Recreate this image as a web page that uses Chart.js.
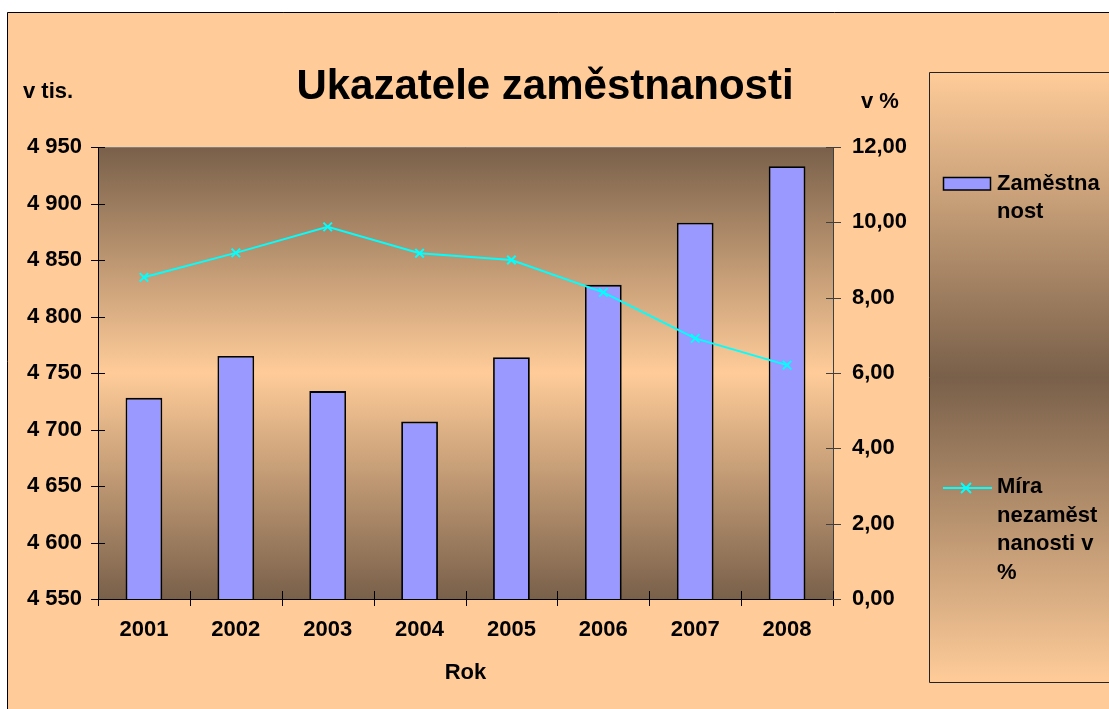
<!DOCTYPE html>
<html>
<head>
<meta charset="utf-8">
<script src="https://cdn.jsdelivr.net/npm/chart.js@4"></script>
<style>
  html, body { margin: 0; padding: 0; background: #fff; }
  canvas { display: block; }
</style>
</head>
<body>
<canvas id="chart" width="1109" height="709"></canvas>
<script>
// data
const years = ['2001', '2002', '2003', '2004', '2005', '2006', '2007', '2008'];
const employment = [4728, 4765, 4734, 4707, 4764, 4828, 4883, 4933];
const unemploymentRate = [8.54, 9.19, 9.88, 9.18, 9.0, 8.14, 6.92, 6.21];
const leftTickLabels = ['4 550', '4 600', '4 650', '4 700', '4 750', '4 800', '4 850', '4 900', '4 950'];
const rightTickLabels = ['0,00', '2,00', '4,00', '6,00', '8,00', '10,00', '12,00'];
const legendBarLines = ['Zaměstna', 'nost'];
const legendLineLines = ['Míra', 'nezaměst', 'nanosti v', '%'];

const FONT = '"Liberation Sans", Arial, sans-serif';
const PEACH = '#ffcc99';
const BROWN = '#79604a';

// background, plot gradient, frame
const backdrop = {
    id: 'backdrop',
    beforeDraw(chart) {
        const ctx = chart.ctx;
        const a = chart.chartArea;
        ctx.save();
        ctx.fillStyle = '#fff';
        ctx.fillRect(0, 0, chart.width, chart.height);
        ctx.fillStyle = PEACH;
        ctx.fillRect(7, 12, chart.width, chart.height);
        ctx.strokeStyle = '#000';
        ctx.lineWidth = 1;
        ctx.beginPath();
        ctx.moveTo(7.5, chart.height + 5);
        ctx.lineTo(7.5, 12.5);
        ctx.lineTo(chart.width + 5, 12.5);
        ctx.stroke();

        const g = ctx.createLinearGradient(0, a.top, 0, a.bottom);
        g.addColorStop(0, BROWN);
        g.addColorStop(0.5, PEACH);
        g.addColorStop(1, BROWN);
        ctx.fillStyle = g;
        ctx.fillRect(a.left, a.top, a.right - a.left, a.bottom - a.top);

        ctx.strokeStyle = '#808080';
        ctx.beginPath();
        ctx.moveTo(a.left, a.top + 0.5);
        ctx.lineTo(a.right, a.top + 0.5);
        ctx.stroke();
        ctx.restore();
    },
    afterDraw(chart) {
        const ctx = chart.ctx;
        const a = chart.chartArea;
        const {x, y, y1} = chart.scales;
        ctx.save();
        ctx.lineWidth = 1;

        // crossing tick marks
        ctx.strokeStyle = '#000';
        ctx.beginPath();
        y.ticks.forEach((t, i) => {
            const py = Math.round(y.getPixelForTick(i)) + 0.5;
            ctx.moveTo(a.left - 7, py);
            ctx.lineTo(a.left + 7, py);
        });
        for (let i = 0; i <= years.length; i++) {
            const px = Math.round(a.left + (a.right - a.left) * i / years.length) + 0.5;
            ctx.moveTo(px, a.bottom - 8);
            ctx.lineTo(px, a.bottom + 7);
        }
        ctx.stroke();
        ctx.strokeStyle = '#404040';
        ctx.beginPath();
        y1.ticks.forEach((t, i) => {
            const py = Math.round(y1.getPixelForTick(i)) + 0.5;
            ctx.moveTo(a.right - 7, py);
            ctx.lineTo(a.right + 8, py);
        });
        ctx.stroke();

        // titles
        ctx.fillStyle = '#000';
        ctx.textBaseline = 'alphabetic';
        ctx.font = 'bold 42px ' + FONT;
        ctx.textAlign = 'center';
        ctx.fillText('Ukazatele zaměstnanosti', 545, 99);
        ctx.font = 'bold 22px ' + FONT;
        ctx.fillText('Rok', (a.left + a.right) / 2, 679);
        ctx.textAlign = 'left';
        ctx.fillText('v tis.', 23, 98);
        ctx.fillText('v %', 861, 108);

        // legend box
        const lx = 929.5, ly = 72.5, lb = 682.5;
        const lg = ctx.createLinearGradient(0, ly, 0, lb);
        lg.addColorStop(0, PEACH);
        lg.addColorStop(0.5, BROWN);
        lg.addColorStop(1, PEACH);
        ctx.fillStyle = lg;
        ctx.fillRect(lx, ly, chart.width, lb - ly);
        ctx.strokeStyle = '#222';
        ctx.beginPath();
        ctx.moveTo(chart.width + 5, ly);
        ctx.lineTo(lx, ly);
        ctx.lineTo(lx, lb);
        ctx.lineTo(chart.width + 5, lb);
        ctx.stroke();

        const barDs = chart.data.datasets[1];
        const lineDs = chart.data.datasets[0];
        ctx.fillStyle = barDs.backgroundColor;
        ctx.fillRect(943.5, 177.5, 47, 12.5);
        ctx.strokeStyle = '#000';
        ctx.lineWidth = 1.5;
        ctx.strokeRect(943.5, 177.5, 47, 12.5);

        ctx.strokeStyle = lineDs.borderColor;
        ctx.lineWidth = 2;
        ctx.beginPath();
        ctx.moveTo(943, 488);
        ctx.lineTo(992, 488);
        ctx.moveTo(961, 483);
        ctx.lineTo(971, 493);
        ctx.moveTo(971, 483);
        ctx.lineTo(961, 493);
        ctx.stroke();

        ctx.fillStyle = '#000';
        ctx.font = 'bold 22px ' + FONT;
        legendBarLines.forEach((s, i) => ctx.fillText(s, 997, 190 + i * 28));
        legendLineLines.forEach((s, i) => ctx.fillText(s, 997, 493 + i * 28.6));
        ctx.restore();
    }
};

const tickFont = {family: FONT, size: 22, weight: 'bold'};

new Chart(document.getElementById('chart'), {
    data: {
        labels: years,
        datasets: [
            {
                type: 'line',
                label: 'Míra nezaměstnanosti v %',
                data: unemploymentRate,
                yAxisID: 'y1',
                borderColor: '#00ffff',
                backgroundColor: '#00ffff',
                borderWidth: 2,
                tension: 0,
                pointStyle: 'crossRot',
                pointRadius: 6,
                pointBorderWidth: 2,
                order: 0
            },
            {
                type: 'bar',
                label: 'Zaměstnanost',
                data: employment,
                yAxisID: 'y',
                backgroundColor: '#9999ff',
                borderColor: '#000',
                borderWidth: 1.8,
                borderSkipped: false,
                categoryPercentage: 1,
                barPercentage: 0.4,
                order: 1
            }
        ]
    },
    options: {
        responsive: false,
        animation: false,
        devicePixelRatio: 1,
        layout: {padding: {top: 147, left: 0, right: 0, bottom: 0}},
        plugins: {
            legend: {display: false},
            title: {display: false},
            tooltip: {enabled: false}
        },
        scales: {
            x: {
                grid: {display: false, drawTicks: false},
                border: {display: true, color: '#000', width: 1},
                ticks: {color: '#000', font: tickFont, padding: 18, maxRotation: 0},
                afterFit: s => { s.height = 110; }
            },
            y: {
                position: 'left',
                min: 4550,
                max: 4950,
                grid: {display: false, drawTicks: false},
                border: {display: true, color: '#000', width: 1},
                ticks: {
                    stepSize: 50,
                    color: '#000',
                    font: tickFont,
                    padding: 16,
                    callback: (v, i) => leftTickLabels[i]
                },
                afterFit: s => { s.width = 98; }
            },
            y1: {
                position: 'right',
                min: 0,
                max: 12,
                grid: {display: false, drawTicks: false},
                border: {display: true, color: '#404040', width: 1},
                ticks: {
                    stepSize: 2,
                    color: '#000',
                    font: tickFont,
                    padding: 19,
                    callback: (v, i) => rightTickLabels[i]
                },
                afterFit: s => { s.width = 1109 - 833; }
            }
        }
    },
    plugins: [backdrop]
});
</script>
</body>
</html>
